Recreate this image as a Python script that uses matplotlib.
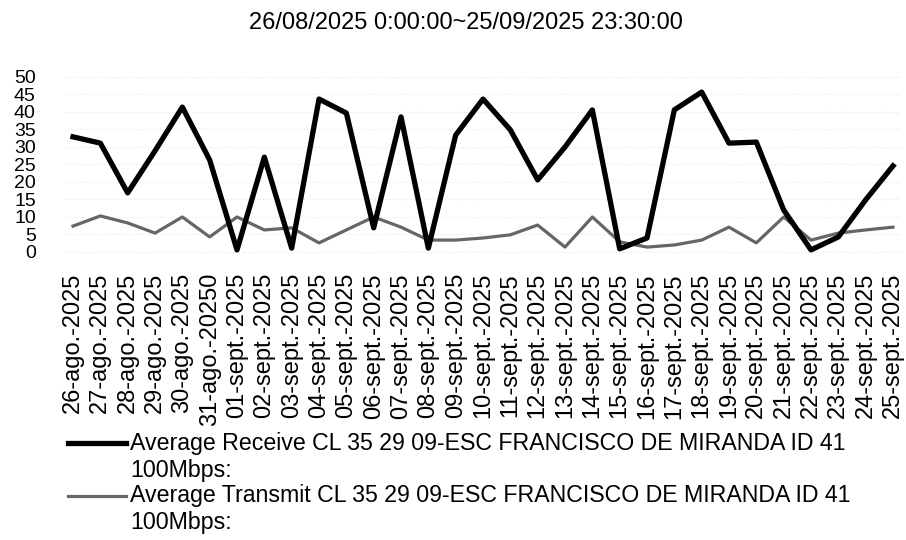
import matplotlib
matplotlib.use("Agg")
import matplotlib.pyplot as plt
from matplotlib.legend_handler import HandlerLine2D

plt.rcParams["font.family"] = ["Liberation Sans", "DejaVu Sans"]

dates = ["26-ago.-2025", "27-ago.-2025", "28-ago.-2025", "29-ago.-2025", "30-ago.-2025",
         "31-ago.-20250", "01-sept.-2025", "02-sept.-2025", "03-sept.-2025", "04-sept.-2025",
         "05-sept.-2025", "06-sept.-2025", "07-sept.-2025", "08-sept.-2025", "09-sept.-2025",
         "10-sept.-2025", "11-sept.-2025", "12-sept.-2025", "13-sept.-2025", "14-sept.-2025",
         "15-sept.-2025", "16-sept.-2025", "17-sept.-2025", "18-sept.-2025", "19-sept.-2025",
         "20-sept.-2025", "21-sept.-2025", "22-sept.-2025", "23-sept.-2025", "24-sept.-2025",
         "25-sept.-2025"]

receive = [32.9, 31.1, 16.9, 28.9, 41.4, 26.3, 0.6, 27.1, 1.1, 43.7,
           39.7, 6.9, 38.6, 1.1, 33.4, 43.7, 34.9, 20.6, 30.0, 40.6,
           0.9, 4.0, 40.6, 45.7, 31.1, 31.4, 12.0, 0.6, 4.3, 14.9, 24.6]

transmit = [7.4, 10.3, 8.3, 5.4, 10.0, 4.3, 10.0, 6.3, 6.9, 2.6,
            6.3, 10.0, 7.1, 3.4, 3.4, 4.0, 4.9, 7.7, 1.4, 10.0,
            2.9, 1.4, 2.0, 3.4, 7.1, 2.6, 10.0, 3.4, 5.4, 6.3, 7.1]

yticks = [0, 5, 10, 15, 20, 25, 30, 35, 40, 45, 50]

title = "26/08/2025 0:00:00~25/09/2025 23:30:00"
label_rx = "Average Receive CL 35 29 09-ESC FRANCISCO DE MIRANDA ID 41\n100Mbps:"
label_tx = "Average Transmit CL 35 29 09-ESC FRANCISCO DE MIRANDA ID 41\n100Mbps:"


# legend handle sits next to the first line of a two-line label
class FirstLineHandler(HandlerLine2D):
    def create_artists(self, legend, orig_handle, xdescent, ydescent, width, height, fontsize, trans):
        return super().create_artists(legend, orig_handle, xdescent, ydescent - 1.25 * fontsize,
                                      width, height, fontsize, trans)


fig = plt.figure(figsize=(9.06, 5.4), dpi=100)
ax = fig.add_axes([65 / 906, 1 - 255 / 540, 835 / 906, 185 / 540])

x = list(range(len(dates)))
ax.plot(x, receive, color="black", lw=3.8, solid_joinstyle="round", label=label_rx, zorder=3)
ax.plot(x, transmit, color="#666666", lw=2.3, solid_joinstyle="round", label=label_tx, zorder=2)

ax.set_xlim(-0.293, 30.256)
ax.set_ylim(-0.86, 52)
ax.set_xticks(x)
ax.set_xticklabels(dates, rotation=90, fontsize=17)
ax.set_yticks(yticks)
ax.set_yticklabels([str(v) for v in yticks], fontsize=14)
ax.tick_params(axis="x", length=0, pad=13)
ax.tick_params(axis="y", length=0, pad=21)
for s in ax.spines.values():
    s.set_visible(False)
ax.grid(axis="y", color="#e8e8e8", ls=":", lw=0.8)

fig.text(466 / 906, 1 - 23 / 540, title, ha="center", va="center", fontsize=17)

fig.legend(loc="upper left", bbox_to_anchor=(68 / 906, 1 - 432 / 540), frameon=False,
           fontsize=16.7, handlelength=2.5, handletextpad=0.17, labelspacing=0.12,
           borderpad=0, borderaxespad=0,
           handler_map={plt.Line2D: FirstLineHandler()})

fig.savefig("out.png", dpi=100)
